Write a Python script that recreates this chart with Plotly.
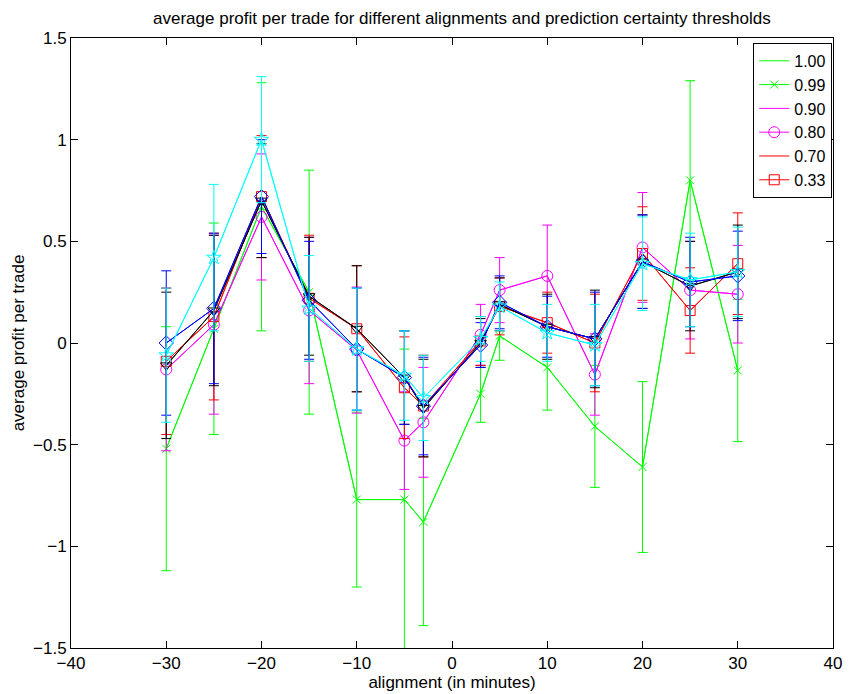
import plotly.graph_objects as go

x = [-30, -25, -20, -15, -10, -5, -3, 3, 5, 10, 15, 20, 25, 30]

green = [-0.52, 0.07, 0.67, 0.25, -0.77, -0.77, -0.88, -0.25, 0.035, -0.12, -0.41, -0.61, 0.80, -0.135]
green_err = [0.60, 0.52, 0.61, 0.60, 0.43, 0.74, 0.51, 0.14, 0.12, 0.21, 0.30, 0.42, 0.49, 0.35]

magenta = [-0.13, 0.09, 0.62, 0.16, -0.035, -0.48, -0.39, 0.04, 0.26, 0.33, -0.155, 0.47, 0.26, 0.24]
magenta_err = [0.40, 0.44, 0.31, 0.36, 0.31, 0.24, 0.27, 0.15, 0.16, 0.25, 0.20, 0.27, 0.24, 0.24]

red = [-0.09, 0.13, 0.72, 0.22, 0.07, -0.22, -0.31, 0.01, 0.18, 0.10, 0.0, 0.44, 0.16, 0.39]
red_err = [0.36, 0.41, 0.30, 0.31, 0.31, 0.25, 0.25, 0.12, 0.14, 0.15, 0.24, 0.23, 0.21, 0.25]

black = [-0.11, 0.16, 0.70, 0.23, 0.07, -0.17, -0.32, 0.0, 0.19, 0.08, 0.02, 0.40, 0.28, 0.35]
black_err = [0.36, 0.37, 0.28, 0.29, 0.31, 0.23, 0.24, 0.12, 0.13, 0.16, 0.24, 0.23, 0.22, 0.23]

blue = [0.0, 0.17, 0.72, 0.21, -0.03, -0.17, -0.31, -0.01, 0.20, 0.08, 0.02, 0.40, 0.30, 0.33]
blue_err = [0.355, 0.37, 0.28, 0.29, 0.30, 0.23, 0.24, 0.11, 0.13, 0.15, 0.23, 0.23, 0.22, 0.22]

cyan = [-0.06, 0.42, 1.00, 0.17, -0.03, -0.16, -0.27, 0.02, 0.18, 0.05, -0.01, 0.39, 0.31, 0.35]
cyan_err = [0.33, 0.36, 0.31, 0.26, 0.30, 0.22, 0.21, 0.11, 0.12, 0.14, 0.20, 0.23, 0.23, 0.22]

legend_labels = ["1.00", "0.99", "0.90", "0.80", "0.70", "0.33"]

FONT = "Liberation Sans, Arial, Helvetica, sans-serif"

fig = go.Figure()

series = [
    (green, green_err, "#00ff00", "x-thin-open", 8, legend_labels[0], legend_labels[1]),
    (magenta, magenta_err, "#ff00ff", "circle-open", 11, legend_labels[2], legend_labels[3]),
    (red, red_err, "#ff0000", "square-open", 10, legend_labels[4], legend_labels[5]),
    (black, black_err, "#000000", "triangle-down-open", 10, None, None),
    (blue, blue_err, "#0000ff", "diamond-open", 11, None, None),
    (cyan, cyan_err, "#00ffff", "star-open", 11, None, None),
]

for y, e, c, sym, sz, lab_err, lab_mark in series:
    fig.add_trace(go.Scatter(
        x=x, y=y, mode="lines",
        line=dict(color=c, width=1),
        error_y=dict(type="data", array=e, visible=True, color=c, thickness=1, width=5),
        name=lab_err if lab_err else "",
        showlegend=lab_err is not None,
    ))
    fig.add_trace(go.Scatter(
        x=x, y=y, mode="lines+markers",
        line=dict(color=c, width=1),
        marker=dict(symbol=sym, size=sz, color=c, line=dict(color=c, width=1)),
        name=lab_mark if lab_mark else "",
        showlegend=lab_mark is not None,
    ))

axis_common = dict(
    showgrid=False, zeroline=False, showline=True, linecolor="black", linewidth=1,
    mirror="ticks", ticks="inside", ticklen=7, tickcolor="black", automargin=False,
    tickfont=dict(family=FONT, size=17, color="black"),
)

W, H = 851, 686  # page body has an 8px margin

fig.update_layout(
    width=W, height=H,
    margin=dict(l=63, r=26, t=30, b=46),
    paper_bgcolor="white", plot_bgcolor="white",
    font=dict(family=FONT, size=17, color="black"),
    title=dict(
        text="average profit per trade for different alignments and prediction certainty thresholds",
        x=0.513, xref="paper", xanchor="center",
        y=1 - 10 / H, yref="container", yanchor="middle",
        font=dict(family=FONT, size=17, color="black"),
    ),
    xaxis=dict(
        range=[-40, 40], tickmode="linear", tick0=-40, dtick=10,
        title=dict(text="alignment (in minutes)", standoff=2,
                   font=dict(family=FONT, size=17)),
        **axis_common,
    ),
    yaxis=dict(
        range=[-1.5, 1.5], tickmode="linear", tick0=-1.5, dtick=0.5,
        title=dict(text="average profit per trade", standoff=4,
                   font=dict(family=FONT, size=17)),
        **axis_common,
    ),
    legend=dict(
        x=0.999, y=0.992, xanchor="right", yanchor="top",
        bgcolor="white", bordercolor="black", borderwidth=1,
        font=dict(family=FONT, size=16, color="black"),
        tracegroupgap=0, itemwidth=30,
    ),
    showlegend=True,
)

fig.write_html("out.html")
